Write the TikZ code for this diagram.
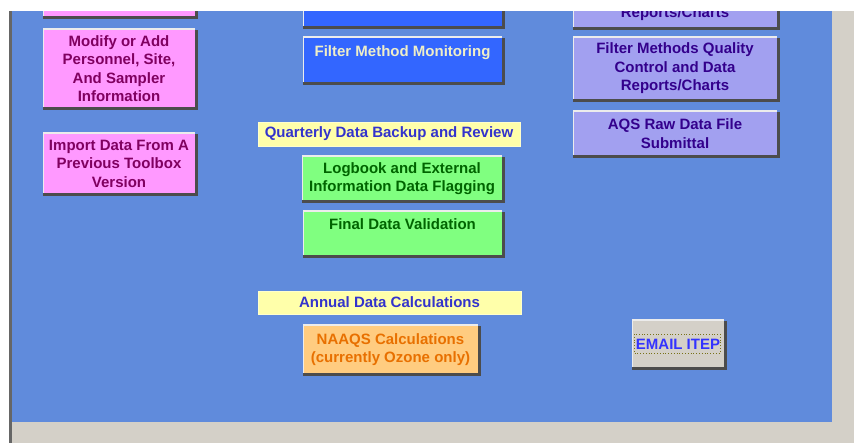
\documentclass[tikz,border=0pt]{standalone}
\usepackage{fontspec}
\setmainfont{Liberation Sans}

\definecolor{panelblue}{RGB}{96,139,220}
\definecolor{wingrey}{RGB}{212,208,200}
\definecolor{pinkfill}{RGB}{255,153,255}
\definecolor{pinktext}{RGB}{128,0,96}
\definecolor{bluefill}{RGB}{51,102,255}
\definecolor{bluetext}{RGB}{238,238,200}
\definecolor{greenfill}{RGB}{128,255,128}
\definecolor{greentext}{RGB}{0,100,0}
\definecolor{purplefill}{RGB}{162,160,240}
\definecolor{purpletext}{RGB}{51,0,140}
\definecolor{yellowfill}{RGB}{255,255,170}
\definecolor{headtext}{RGB}{51,51,204}
\definecolor{orangefill}{RGB}{255,204,128}
\definecolor{orangetext}{RGB}{232,112,0}
\definecolor{emailtext}{RGB}{51,51,255}

\begin{document}
\begin{tikzpicture}[x=1pt, y=-1pt,
    every node/.style={font=\bfseries\fontsize{15}{18.5}\selectfont, align=center, inner sep=0pt},
    pinkbtn/.style={fill=pinkfill, text=pinktext},
    bluebtn/.style={fill=bluefill, text=bluetext},
    greenbtn/.style={fill=greenfill, text=greentext},
    purplebtn/.style={fill=purplefill, text=purpletext},
    orangebtn/.style={fill=orangefill, text=orangetext},
    greybtn/.style={fill=wingrey, text=emailtext},
    headline/.style={fill=yellowfill, text=headtext, draw=yellowfill!60!white, line width=0.8pt},
    btn_light/.style={white!85!gray, line width=1.5pt},
    btn_shadow/.style={black!70, line width=2.5pt},
    focusrect/.style={draw=olive!80!black, dotted, line width=0.8pt}
  ]
  \useasboundingbox (0,0) rectangle (854,447);

  % Fensterrahmen
  \fill[white] (0,0) rectangle (854,447);
  \fill[wingrey] (12,11) rectangle (854,443);
  \fill[panelblue] (12,11) rectangle (832,422);
  \draw[black!60, line width=3pt] (10.5,11) -- (10.5,443);

  % linke Spalte
  \node[pinkbtn, minimum width=152, minimum height=36] (pinktop) at (119,-2) {};
  \node[pinkbtn, minimum width=152, minimum height=77] (modify) at (119,68.5)
    {Modify or Add\\Personnel, Site,\\And Sampler\\Information};
  \node[pinkbtn, minimum width=152, minimum height=59] (import) at (119,163.5)
    {Import Data From A\\Previous Toolbox\\Version};

  % mittlere Spalte
  \node[bluebtn, minimum width=199, minimum height=46] (bluetop) at (402.5,3) {};
  \node[bluebtn, minimum width=199, minimum height=44] (filtermon) at (402.5,60)
    {Filter Method Monitoring\\~};
  \node[headline, minimum width=262, minimum height=24] (quarterly) at (389,134)
    {Quarterly Data Backup and Review};
  \node[greenbtn, minimum width=200, minimum height=43] (logbook) at (402,178.5)
    {Logbook and External\\Information Data Flagging};
  \node[greenbtn, minimum width=199, minimum height=43] (finalval) at (402.5,233.5)
    {Final Data Validation\\~};
  \node[headline, minimum width=263, minimum height=23] (annual) at (389.5,302.5)
    {Annual Data Calculations};
  \node[orangebtn, minimum width=175, minimum height=47] (naaqs) at (390.5,349.5)
    {NAAQS Calculations\\(currently Ozone only)};

  % rechte Spalte
  \node[purplebtn, minimum width=204, minimum height=26] (purpletop) at (675,14)
    {Reports/Charts};
  \node[purplebtn, minimum width=204, minimum height=61] (fmquality) at (675,68.5)
    {Filter Methods Quality\\Control and Data\\Reports/Charts};
  \node[purplebtn, minimum width=204, minimum height=43] (aqsraw) at (675,133.5)
    {AQS Raw Data File\\Submittal};
  \node[greybtn, minimum width=92, minimum height=46] (email) at (678,344)
    {EMAIL ITEP};
  \draw[focusrect] ([shift={(-44,-10)}]email.center) rectangle ([shift={(42,9)}]email.center);

  % 3D-Kanten der Schaltflaechen
  \foreach \b in {pinktop, modify, import, bluetop, filtermon, logbook, finalval,
                  naaqs, purpletop, fmquality, aqsraw, email} {
    \draw[btn_light] ([shift={(0.75,0)}]\b.south west) -- ([shift={(0.75,-0.75)}]\b.north west)
      -- ([shift={(0,-0.75)}]\b.north east);
    \draw[btn_shadow] ([shift={(0,1.25)}]\b.south west) -- ([shift={(1.25,1.25)}]\b.south east)
      -- ([shift={(1.25,0)}]\b.north east);
  }

  % oberer Rand deckt die abgeschnittenen Knoepfe
  \fill[white] (0,0) rectangle (854,11);

\end{tikzpicture}
\end{document}
